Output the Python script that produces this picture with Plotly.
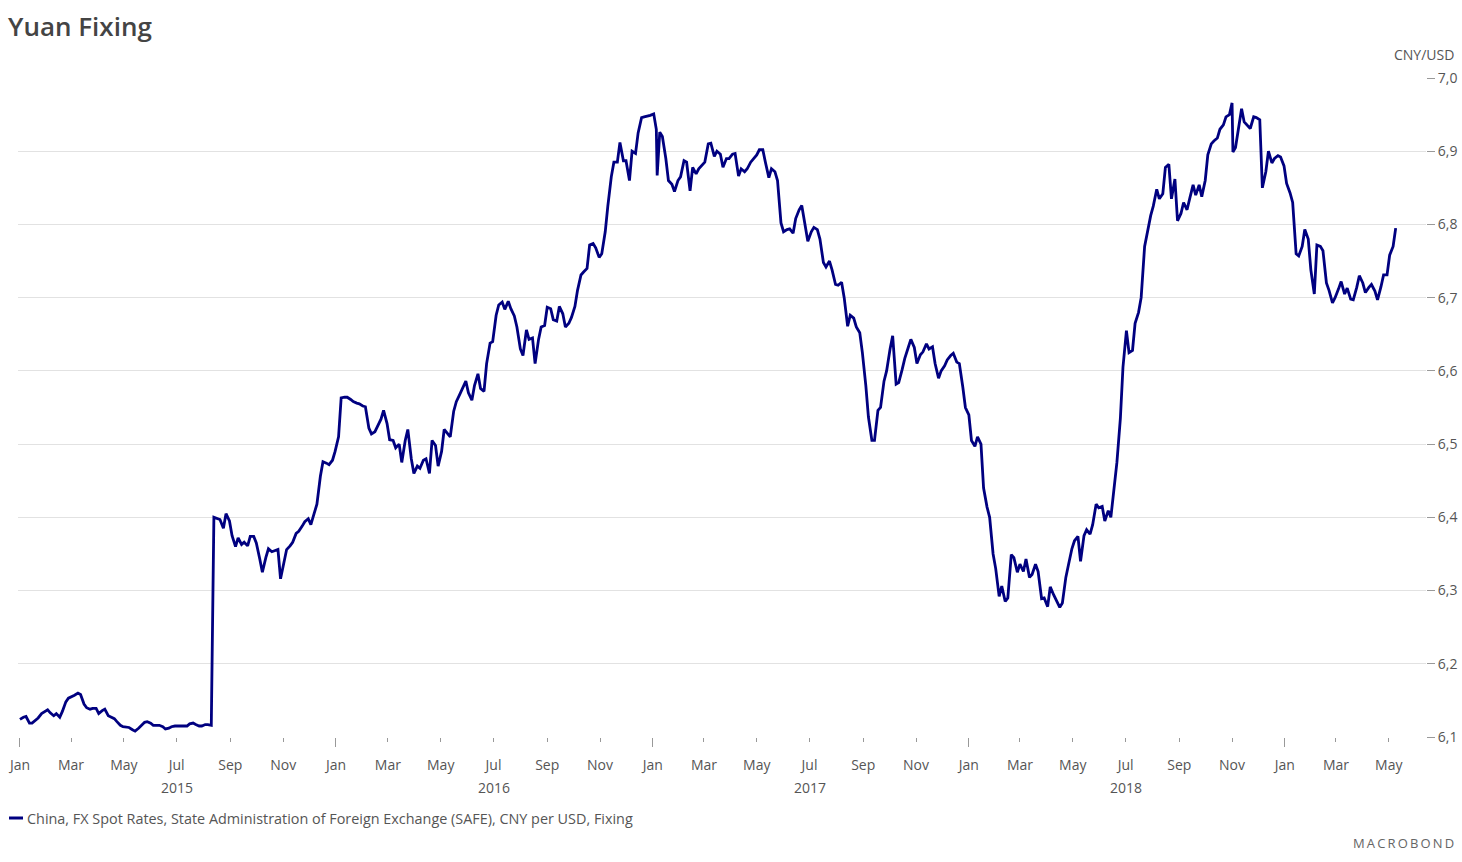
import pandas as pd
import plotly.graph_objects as go

# CNY/USD fixing values: Thursdays from 2015-01-01 ...
thursday_start = "2015-01-01"
fixing_thursday = [
    6.124, 6.128, 6.119, 6.126, 6.134, 6.133, 6.132, 6.135, 6.153, 6.157,
    6.158, 6.140, 6.139, 6.132, 6.138, 6.127, 6.121, 6.114, 6.113, 6.108,
    6.115, 6.121, 6.116, 6.116, 6.111, 6.114, 6.115, 6.116, 6.118, 6.117,
    6.115, 6.117, 6.400, 6.397, 6.405, 6.375, 6.372, 6.366, 6.374, 6.365,
    6.325, 6.357, 6.354, 6.316, 6.356, 6.366, 6.381, 6.394, 6.390, 6.418,
    6.476, 6.472, 6.490, 6.563, 6.564, 6.558, 6.555, 6.551, 6.514, 6.525,
    6.546, 6.506, 6.495, 6.475, 6.520, 6.460, 6.467, 6.480, 6.505, 6.470,
    6.520, 6.510, 6.558, 6.575, 6.570, 6.580, 6.576, 6.610, 6.640, 6.690,
    6.684, 6.685, 6.660, 6.621, 6.643, 6.610, 6.660, 6.687, 6.670, 6.688,
    6.660, 6.673, 6.710, 6.735, 6.772, 6.768, 6.760, 6.825, 6.885, 6.912,
    6.887, 6.900, 6.925, 6.947, 6.949, 6.930, 6.920, 6.860, 6.845, 6.865,
    6.885, 6.878, 6.876, 6.885, 6.911, 6.900, 6.878, 6.890, 6.897, 6.876,
    6.876, 6.890, 6.902, 6.885, 6.876, 6.860, 6.790, 6.794, 6.808, 6.826,
    6.777, 6.796, 6.780, 6.742, 6.738, 6.717, 6.700, 6.676, 6.660, 6.625,
    6.537, 6.505, 6.550, 6.600, 6.648, 6.584, 6.617, 6.643, 6.610, 6.626,
    6.630, 6.610, 6.600, 6.615, 6.624, 6.610, 6.550, 6.505, 6.510, 6.440,
    6.400, 6.330, 6.306, 6.290, 6.345, 6.336, 6.343, 6.322, 6.326, 6.290,
    6.305, 6.286, 6.283, 6.335, 6.368, 6.340, 6.383, 6.390, 6.413, 6.395,
    6.400, 6.475, 6.605, 6.625, 6.665, 6.700, 6.790, 6.825, 6.835, 6.878,
    6.835, 6.805, 6.830, 6.835, 6.840, 6.838, 6.895, 6.914, 6.930, 6.947,
    6.966, 6.930, 6.940, 6.931, 6.946, 6.850, 6.900, 6.890, 6.892, 6.856,
    6.830, 6.757, 6.793, 6.738, 6.772, 6.764, 6.710, 6.700, 6.722, 6.713,
    6.697, 6.730, 6.707, 6.718, 6.697, 6.731, 6.758, 6.795,
]

# ... and Mondays from 2015-01-05
monday_start = "2015-01-05"
fixing_monday = [
    6.127, 6.119, 6.123, 6.132, 6.137, 6.129, 6.127, 6.148, 6.155, 6.160,
    6.145, 6.138, 6.139, 6.136, 6.129, 6.125, 6.116, 6.114, 6.110, 6.112,
    6.120, 6.119, 6.116, 6.114, 6.112, 6.115, 6.116, 6.115, 6.119, 6.115,
    6.117, 6.116, 6.398, 6.385, 6.395, 6.360, 6.363, 6.361, 6.374, 6.343,
    6.345, 6.353, 6.356, 6.339, 6.361, 6.378, 6.388, 6.398, 6.406, 6.456,
    6.474, 6.478, 6.510, 6.564, 6.561, 6.556, 6.552, 6.522, 6.517, 6.534,
    6.528, 6.505, 6.500, 6.505, 6.480, 6.470, 6.478, 6.460, 6.498, 6.490,
    6.515, 6.545, 6.568, 6.586, 6.560, 6.596, 6.572, 6.638, 6.676, 6.694,
    6.695, 6.675, 6.630, 6.656, 6.645, 6.643, 6.662, 6.685, 6.668, 6.678,
    6.665, 6.688, 6.731, 6.740, 6.774, 6.755, 6.790, 6.865, 6.885, 6.887,
    6.860, 6.897, 6.946, 6.948, 6.951, 6.926, 6.890, 6.855, 6.860, 6.887,
    6.846, 6.869, 6.881, 6.910, 6.893, 6.896, 6.890, 6.896, 6.866, 6.872,
    6.885, 6.895, 6.902, 6.864, 6.872, 6.802, 6.793, 6.788, 6.820, 6.800,
    6.790, 6.793, 6.748, 6.750, 6.718, 6.721, 6.661, 6.672, 6.652, 6.580,
    6.505, 6.546, 6.586, 6.630, 6.582, 6.602, 6.632, 6.632, 6.622, 6.637,
    6.633, 6.590, 6.607, 6.621, 6.612, 6.578, 6.540, 6.497, 6.500, 6.414,
    6.350, 6.292, 6.285, 6.349, 6.325, 6.326, 6.318, 6.336, 6.289, 6.278,
    6.294, 6.277, 6.318, 6.357, 6.374, 6.375, 6.377, 6.418, 6.415, 6.409,
    6.447, 6.535, 6.655, 6.628, 6.680, 6.770, 6.812, 6.848, 6.842, 6.882,
    6.862, 6.815, 6.820, 6.854, 6.854, 6.860, 6.910, 6.918, 6.936, 6.950,
    6.905, 6.958, 6.935, 6.947, 6.943, 6.872, 6.884, 6.894, 6.880, 6.843,
    6.760, 6.770, 6.780, 6.705, 6.770, 6.720, 6.693, 6.712, 6.705, 6.698,
    6.714, 6.720, 6.714, 6.709, 6.715, 6.731, 6.770,
]

# Extra daily fixings visible as spikes
extra_dates = ["2017-01-06", "2018-11-02"]
extra_values = [6.867, 6.899]

month_names = ["Jan", "Feb", "Mar", "Apr", "May", "Jun",
               "Jul", "Aug", "Sep", "Oct", "Nov", "Dec"]
years = [2015, 2016, 2017, 2018, 2019]
y_ticks = [6.1, 6.2, 6.3, 6.4, 6.5, 6.6, 6.7, 6.8, 6.9, 7.0]

title_text = "Yuan Fixing"
unit_text = "CNY/USD"
series_name = "China, FX Spot Rates, State Administration of Foreign Exchange (SAFE), CNY per USD, Fixing"
brand_text = "M\u2009A\u2009C\u2009R\u2009O\u2009B\u2009O\u2009N\u2009D"

series = pd.concat([
    pd.Series(fixing_thursday,
              index=pd.date_range(thursday_start, periods=len(fixing_thursday), freq="7D")),
    pd.Series(fixing_monday,
              index=pd.date_range(monday_start, periods=len(fixing_monday), freq="7D")),
    pd.Series(extra_values, index=pd.to_datetime(extra_dates)),
]).sort_index()

tick_dates = pd.date_range("2015-01-01", "2019-05-01", freq="2MS")
tick_text = [month_names[d.month - 1] for d in tick_dates]
jan_dates = [pd.Timestamp(f"{y}-01-01") for y in years]
mid_year_dates = [pd.Timestamp(f"{y}-07-01") for y in years]

LINE_COLOR = "#000080"
TEXT_COLOR = "#555555"
X_RANGE = ["2014-12-29 18:00", "2019-06-13"]

# pixel geometry helpers (plot area)
W, H = 1462, 862
PL, PR, PT, PB = 18, 1426, 78, 737
pw, ph = PR - PL, PB - PT


def px(x):
    return (x - PL) / pw


def py(y):
    return (PB - y) / ph


fig = go.Figure()
fig.add_trace(go.Scatter(
    x=series.index, y=series.values, mode="lines",
    line=dict(color=LINE_COLOR, width=2.8),
    name=series_name, hoverinfo="x+y",
))
# invisible helper trace to carry the long January tick marks axis
fig.add_trace(go.Scatter(
    x=[series.index[0]], y=[series.values[0]], xaxis="x2", mode="lines",
    line=dict(width=0), hoverinfo="skip", showlegend=False,
))

tick_font = dict(family="Open Sans", size=14, color=TEXT_COLOR)

fig.update_layout(
    width=W, height=H, autosize=False,
    margin=dict(l=PL, r=W - PR, t=PT, b=H - PB, autoexpand=False),
    paper_bgcolor="white", plot_bgcolor="white",
    separators=",.",
    showlegend=False,
    font=dict(family="Open Sans", size=14, color=TEXT_COLOR),
    title=dict(text=title_text, xref="container", yref="container",
               x=8 / W, xanchor="left", y=1 - 27 / H, yanchor="middle",
               font=dict(family="Open Sans", size=26, color="#444444", weight=600)),
    xaxis=dict(
        type="date", range=X_RANGE, automargin=False,
        tickmode="array", tickvals=tick_dates, ticktext=tick_text,
        showgrid=False, showline=False, zeroline=False,
        ticks="outside", ticklen=4, tickcolor="#999999", tickwidth=1,
        ticklabelstandoff=11,
        tickfont=tick_font,
    ),
    xaxis2=dict(
        type="date", range=X_RANGE, overlaying="x", matches="x", anchor="y",
        automargin=False,
        tickmode="array", tickvals=jan_dates, showticklabels=False,
        showgrid=False, showline=False, zeroline=False,
        ticks="outside", ticklen=9, tickcolor="#999999", tickwidth=1,
    ),
    yaxis=dict(
        side="right", range=[6.1, 7.0], automargin=False,
        tickmode="array", tickvals=y_ticks, tickformat=".1f",
        showgrid=True, gridcolor="#e2e2e2", gridwidth=1,
        zeroline=False, showline=False,
        ticks="outside", ticklen=8, tickcolor="#999999", tickwidth=1,
        tickfont=tick_font,
    ),
)

for y, d in zip(years, mid_year_dates):
    fig.add_annotation(text=str(y), xref="x", yref="paper", x=d, y=py(787),
                       xanchor="center", yanchor="middle", showarrow=False,
                       font=tick_font)

fig.add_annotation(text=unit_text, xref="paper", yref="paper",
                   x=px(1456), y=py(54), xanchor="right", yanchor="middle",
                   showarrow=False, font=dict(size=14, color=TEXT_COLOR))
fig.add_shape(type="line", xref="paper", yref="paper",
              x0=px(9), x1=px(23), y0=py(818), y1=py(818),
              line=dict(color=LINE_COLOR, width=3))
fig.add_annotation(text=series_name, xref="paper", yref="paper",
                   x=px(25), y=py(818), xanchor="left", yanchor="middle",
                   showarrow=False, font=dict(size=14.4, color=TEXT_COLOR))
fig.add_annotation(text=brand_text, xref="paper", yref="paper",
                   x=px(1456), y=py(843), xanchor="right", yanchor="middle",
                   showarrow=False, font=dict(size=13, color="#666666"))

fig.write_html("out.html", config={"displayModeBar": False},
               post_script="document.body.style.margin='0';")
